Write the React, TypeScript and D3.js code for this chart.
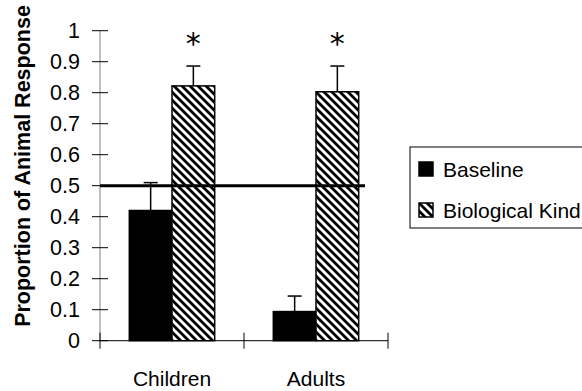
import React from "react";
import * as d3 from "d3";

const width = 582;
const height = 391;

const categories = ["Children", "Adults"];
const series = ["Baseline", "Biological Kind"];
const baselineValues = [0.42, 0.094];
const baselineErrors = [0.09, 0.05];
const biologicalValues = [0.822, 0.803];
const biologicalErrors = [0.064, 0.083];
const yTicks = [0, 0.1, 0.2, 0.3, 0.4, 0.5, 0.6, 0.7, 0.8, 0.9, 1];
const chanceLevel = 0.5;
const starred = ["Children", "Adults"];

const font = "Arial, 'Liberation Sans', sans-serif";

const y = d3.scaleLinear().domain([0, 1]).range([340.7, 30.7]);
const x0 = d3.scaleBand().domain(categories).range([100, 388]);
const x1 = d3.scaleBand().domain(series).range([0, 85.4]);

const values = [baselineValues, biologicalValues];
const errors = [baselineErrors, biologicalErrors];

export default function App() {
  const groupStart = (c: string) => x0(c)! + x0.bandwidth() / 2 - 42.7;
  const bars = categories.flatMap((c, ci) =>
    series.map((s, si) => {
      const bx = groupStart(c) + x1(s)!;
      return {
        key: c + s,
        s,
        x: bx,
        w: x1.bandwidth(),
        top: y(values[si][ci]),
        err: y(values[si][ci] + errors[si][ci]),
        cx: bx + x1.bandwidth() / 2,
      };
    })
  );

  return (
    <svg
      width={width}
      height={height}
      style={{ position: "absolute", left: 0, top: 0, background: "#fff" }}
    >
      <defs>
        <pattern id="hatch" patternUnits="userSpaceOnUse" width={8} height={8}>
          <rect width={8} height={8} fill="#fff" />
          <path
            d="M-2,-2 L10,10 M-6,2 L2,10 M6,-2 L14,6"
            stroke="#000"
            strokeWidth={2.8}
          />
        </pattern>
      </defs>

      {/* y axis */}
      <line x1={100} x2={100} y1={y(1)} y2={y(0)} stroke="#808080" />
      {yTicks.map((t) => (
        <g key={t}>
          <line x1={92} x2={108} y1={y(t)} y2={y(t)} stroke="#000" />
          <text
            x={80}
            y={y(t)}
            dy="0.36em"
            textAnchor="end"
            fontFamily={font}
            fontSize={21.5}
          >
            {t}
          </text>
        </g>
      ))}

      {/* bars */}
      {bars.map((b) => (
        <g key={b.key}>
          <line x1={b.cx} x2={b.cx} y1={b.top} y2={b.err} stroke="#000" strokeWidth={1.5} />
          <line x1={b.cx - 7} x2={b.cx + 7} y1={b.err} y2={b.err} stroke="#000" strokeWidth={1.5} />
          <rect
            x={b.x}
            y={b.top}
            width={b.w}
            height={y(0) - b.top}
            fill={b.s === "Baseline" ? "#000" : "url(#hatch)"}
            stroke="#000"
            strokeWidth={1.5}
          />
        </g>
      ))}

      {/* x axis */}
      <line x1={100} x2={388} y1={y(0)} y2={y(0)} stroke="#000" />
      {[...categories.map((c) => x0(c)!), 388].map((tx) => (
        <line key={tx} x1={tx} x2={tx} y1={y(0) - 8} y2={y(0) + 8} stroke="#000" />
      ))}
      {categories.map((c) => (
        <text
          key={c}
          x={x0(c)! + x0.bandwidth() / 2}
          y={386}
          textAnchor="middle"
          fontFamily={font}
          fontSize={21}
        >
          {c}
        </text>
      ))}

      {/* chance line */}
      <line
        x1={100}
        x2={365}
        y1={y(chanceLevel)}
        y2={y(chanceLevel)}
        stroke="#000"
        strokeWidth={3}
      />

      {/* significance stars */}
      {starred.map((c) => (
        <text
          key={c}
          x={groupStart(c) + x1("Biological Kind")! + x1.bandwidth() / 2}
          y={54}
          textAnchor="middle"
          fontFamily="'DejaVu Sans', sans-serif"
          fontSize={30}
        >
          *
        </text>
      ))}

      {/* y title */}
      <text
        transform={`translate(30,${166}) rotate(-90)`}
        textAnchor="middle"
        fontFamily={font}
        fontSize={21.5}
        fontWeight="bold"
      >
        Proportion of Animal Response
      </text>

      {/* legend */}
      <rect x={410} y={147} width={190} height={81} fill="#fff" stroke="#000" />
      {series.map((s, i) => (
        <g key={s} transform={`translate(419,${162 + i * 41})`}>
          <rect
            width={14}
            height={14}
            fill={s === "Baseline" ? "#000" : "url(#hatch)"}
            stroke="#000"
            strokeWidth={1.5}
          />
          <text x={24} y={14.5} fontFamily={font} fontSize={21}>
            {s}
          </text>
        </g>
      ))}
    </svg>
  );
}
